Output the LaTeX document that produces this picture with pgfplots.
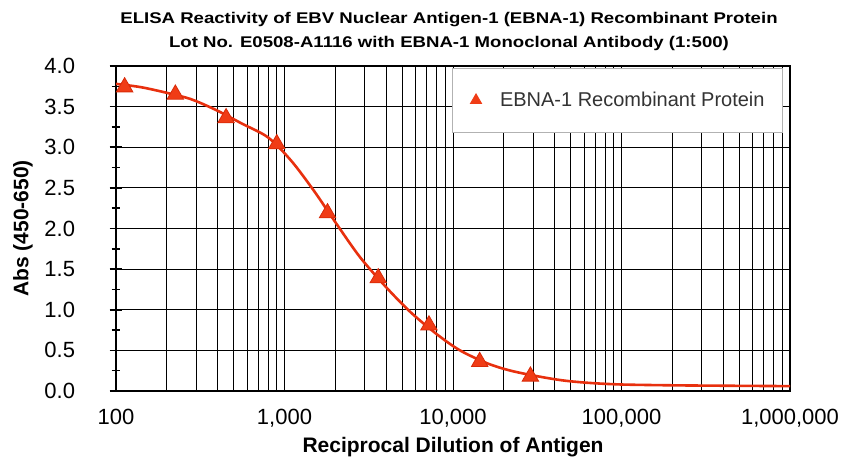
\documentclass[border=0pt]{standalone}
\usepackage{fontspec}
\setmainfont{Liberation Sans}
\newfontfamily\titlefont[FakeStretch=1.2]{Liberation Sans}
\usepackage{pgfplots}
\pgfplotsset{compat=1.18}
\definecolor{ebna}{HTML}{F03C16}
\definecolor{ebnaline}{HTML}{E8300E}
\definecolor{ebnadark}{HTML}{D92A08}
\pgfplotsset{tri legend/.style={legend image code/.code={%
  \path[draw=none, fill=none] (-8pt,0pt) rectangle (22pt,0.1pt);
  \path[##1, draw=none, mark size=6.5pt, mark options={fill=ebna, draw=ebna}] plot coordinates {(0pt,0pt)};}}}
\begin{document}
\begin{tikzpicture}[x=1pt,y=1pt]
\useasboundingbox (0,0) rectangle (846,459);
\node[anchor=base, font=\titlefont\bfseries\fontsize{15.5}{18}\selectfont] at (449,435.7) {ELISA Reactivity of EBV Nuclear Antigen-1 (EBNA-1) Recombinant Protein};
\node[anchor=base, font=\titlefont\bfseries\fontsize{15.5}{18}\selectfont] at (449,411.3) {Lot No. E0508-A1116 with EBNA-1 Monoclonal Antibody (1:500)};
\begin{axis}[
  at={(116pt,68pt)}, anchor=south west,
  scale only axis, width=674pt, height=325pt,
  xmode=log, xmin=100, xmax=1000000, ymin=0, ymax=4,
  xtick={100,1000,10000,100000,1000000},
  xticklabels={100,{1,000},{10,000},{100,000},{1,000,000}},
  ytick={0,0.5,1,1.5,2,2.5,3,3.5,4},
  minor y tick num=1,
  ytick pos=left,
  /pgf/number format/fixed, /pgf/number format/fixed zerofill,
  /pgf/number format/precision=1, /pgf/number format/assume math mode=true,
  ticklabel style={font=\fontsize{22}{24}\selectfont},
  x tick label style={yshift=-15pt},
  y tick label style={xshift=-31pt},
  ytick align=center,
  major tick length=13pt, minor tick length=9pt,
  every tick/.style={black, line width=1.6pt},
  xtick style={draw=none},
  xmajorgrids, xminorgrids, ymajorgrids,
  major grid style={black, line width=0.9pt},
  minor grid style={black, line width=0.9pt},
  axis line style={line width=2.6pt},
  xlabel={Reciprocal Dilution of Antigen},
  ylabel={Abs (450-650)},
  every axis x label/.style={at={(axis description cs:0.5,0)}, anchor=center, yshift=-56pt, font=\bfseries\fontsize{21}{24}\selectfont},
  every axis y label/.style={at={(axis description cs:-0.138,0.5)}, anchor=center, rotate=90, font=\bfseries\fontsize{21}{24}\selectfont},
  legend style={at={(axis description cs:0.9896,0.994)}, anchor=north east, fill=white, draw=gray!60, line width=0.8pt,
    font=\fontsize{20}{22}\selectfont, text=black!80, inner xsep=16pt, inner ysep=22pt},
  legend cell align=left,
]
\addplot[ebnaline, line width=2.6pt, smooth, forget plot] coordinates {
  (100,3.78) (140,3.74) (200,3.67) (280,3.59) (400,3.45) (560,3.29)
  (800,3.12) (1100,2.83) (1500,2.46) (2000,2.08) (2800,1.65) (4000,1.28)
  (5600,0.97) (8000,0.70) (11000,0.50) (16000,0.34) (22000,0.25)
  (32000,0.18) (45000,0.13) (64000,0.10) (100000,0.08) (200000,0.07)
  (400000,0.065) (1000000,0.06)
};
\addplot[only marks, mark=triangle*, mark size=9.5pt, mark options={fill=ebna, draw=ebnadark, line width=0.8pt}, tri legend] coordinates {
  (112.5,3.74) (225,3.65) (450,3.36) (900,3.04) (1800,2.19) (3600,1.39)
  (7200,0.81) (14400,0.36) (28800,0.18)
};
\addlegendentry{EBNA-1 Recombinant Protein}
\end{axis}
\end{tikzpicture}
\end{document}
